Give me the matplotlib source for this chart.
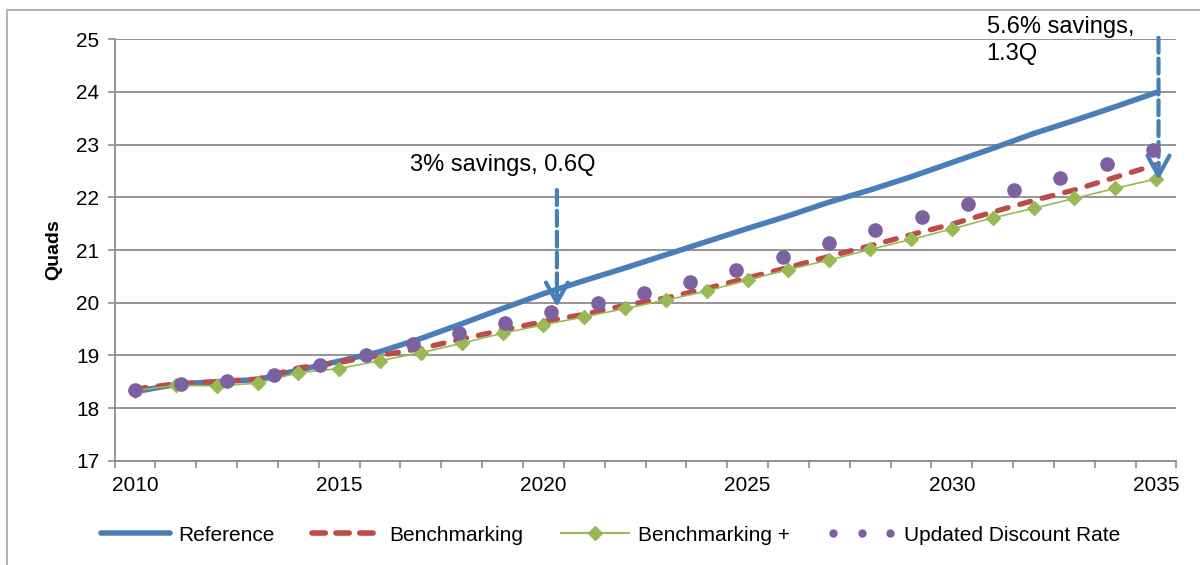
import matplotlib
matplotlib.use('Agg')
import matplotlib.pyplot as plt
from matplotlib.lines import Line2D
from matplotlib.patches import Rectangle
from matplotlib.legend_handler import HandlerLine2D

plt.rcParams["font.family"] = ["Liberation Sans", "DejaVu Sans"]

# yearly series (quads)
years = list(range(2010, 2036))
reference = [18.31, 18.45, 18.50, 18.54, 18.72, 18.89, 19.07, 19.32, 19.60, 19.89,
             20.17, 20.42, 20.66, 20.91, 21.16, 21.41, 21.65, 21.91, 22.14, 22.39,
             22.66, 22.93, 23.21, 23.46, 23.72, 23.99]
benchmarking = [18.36, 18.46, 18.50, 18.55, 18.76, 18.87, 19.00, 19.13, 19.31, 19.48,
                19.64, 19.78, 19.95, 20.09, 20.27, 20.47, 20.67, 20.88, 21.08, 21.29,
                21.49, 21.72, 21.94, 22.14, 22.38, 22.62]
benchmarking_plus = [18.33, 18.43, 18.42, 18.47, 18.67, 18.75, 18.90, 19.05, 19.23, 19.42,
                     19.58, 19.73, 19.89, 20.05, 20.22, 20.43, 20.63, 20.81, 21.01, 21.20,
                     21.40, 21.61, 21.79, 21.98, 22.17, 22.35]

# discount-rate run sits on its own 23-step category axis
discount_steps = list(range(23))
updated_discount = [18.34, 18.46, 18.51, 18.63, 18.82, 19.01, 19.21, 19.43, 19.62, 19.83,
                    20.00, 20.18, 20.39, 20.62, 20.86, 21.13, 21.38, 21.63, 21.87, 22.13,
                    22.37, 22.63, 22.89]

year_labels = [2010, 2015, 2020, 2025, 2030, 2035]
y_ticks = list(range(17, 26))

# savings callouts: (x year, arrow top, arrow tip)
note_2020 = (2020.33, 22.14, 19.92)
note_2035 = (2035.06, 25.03, 22.33)

BLUE = '#4A7EBB'
RED = '#BE4B48'
GREEN = '#98B954'
PURPLE = '#7D60A0'
GRID = '#8C8C8C'

fig = plt.figure(figsize=(12, 5.65), dpi=100)
ax = fig.add_axes([0.0955, 0.1846, 0.8849, 0.7458])

ax.plot(years, reference, color=BLUE, lw=4, solid_capstyle='round', zorder=3)
ax.plot(years, benchmarking, color=RED, lw=3.8, dashes=(2.1, 2.3),
        dash_capstyle='round', zorder=4)
ax.plot(years, benchmarking_plus, color=GREEN, lw=1.2, marker='D', ms=7.5, zorder=5)

ax.set_xlim(2009.5, 2035.5)
ax.set_ylim(17, 25)
ax.set_yticks(y_ticks)
ax.set_xticks(year_labels)
ax.set_xticks([y - 0.5 for y in years] + [years[-1] + 0.5], minor=True)
ax.tick_params(axis='x', which='major', length=0, labelsize=15, pad=11)
ax.tick_params(axis='x', which='minor', length=5, width=1.2, color=GRID)
ax.tick_params(axis='y', length=5, width=1.2, color=GRID, labelsize=15, pad=6)
ax.grid(axis='y', color=GRID, lw=1.3)
ax.set_axisbelow(True)
for side in ['top', 'right']:
    ax.spines[side].set_visible(False)
for side in ['left', 'bottom']:
    ax.spines[side].set_color(GRID)
    ax.spines[side].set_linewidth(1.3)
ax.set_ylabel('Quads', fontsize=14, fontweight='bold')
ax.yaxis.set_label_coords(-0.049, 0.5)

ax2 = ax.twiny()
ax2.set_xlim(-0.44, 22.51)
ax2.set_ylim(17, 25)
ax2.axis('off')
ax2.plot(discount_steps, updated_discount, ls='none', marker='o', ms=9.5,
         color=PURPLE, zorder=6)

# dashed callout arrows
for x, top, tip in [note_2020, note_2035]:
    ax2.annotate('', xy=(x, tip + 0.25), xytext=(x, top),
                 xycoords=ax.transData, textcoords=ax.transData,
                 arrowprops=dict(arrowstyle='-', color=BLUE, lw=3,
                                 linestyle=(0, (3.6, 1.4)), shrinkA=0, shrinkB=0),
                 annotation_clip=False)
    ax2.annotate('', xy=(x, tip), xytext=(x, tip + 0.3),
                 xycoords=ax.transData, textcoords=ax.transData,
                 arrowprops=dict(arrowstyle='->,head_length=0.4,head_width=0.22',
                                 mutation_scale=36, color=BLUE, lw=3,
                                 shrinkA=0, shrinkB=0),
                 annotation_clip=False)

ax.text(2016.73, 22.61, '3% savings, 0.6Q', fontsize=17, ha='left', va='center')
ax.text(2030.85, 24.98, '5.6% savings,\n1.3Q', fontsize=17, ha='left', va='center',
        linespacing=1.25)

handles = [
    Line2D([], [], color=BLUE, lw=4, solid_capstyle='round'),
    Line2D([], [], color=RED, lw=4, dashes=(2.4, 1.9), dash_capstyle='round'),
    Line2D([], [], color=GREEN, lw=1.5, marker='D', ms=7),
    Line2D([], [], ls='none', marker='o', ms=5, color=PURPLE),
]
labels = ['Reference', 'Benchmarking', 'Benchmarking +', 'Updated Discount Rate']
fig.legend(handles, labels, loc='center', bbox_to_anchor=(0.509, 0.053), ncol=4,
           frameon=False, fontsize=15, handlelength=3.3, handletextpad=0.4,
           columnspacing=1.8,
           handler_map={handles[3]: HandlerLine2D(numpoints=3)})

# outer chart frame
fig.patches.append(Rectangle((7 / 1200, -0.1), 1.2, 1.1 - 10 / 565, fill=False,
                             edgecolor='#A6A6A6', lw=1.2, transform=fig.transFigure))

fig.savefig('out.png', dpi=100)
